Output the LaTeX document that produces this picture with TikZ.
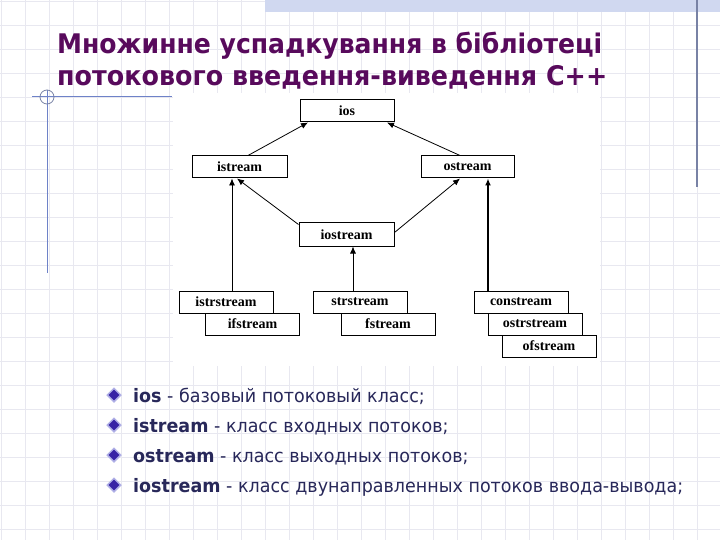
\documentclass[tikz,border=0pt]{standalone}
\usepackage{fontspec}
\usepackage{graphicx}
\setmainfont{Liberation Serif}
\newfontfamily\titlefont{DejaVu Sans}
\newfontfamily\bodyfont{DejaVu Sans}
\usetikzlibrary{arrows.meta,shapes.geometric}
\definecolor{titlec}{RGB}{88,10,92}
\definecolor{bodyc}{RGB}{40,40,90}
\definecolor{gridc}{RGB}{232,232,240}
\definecolor{bandc}{RGB}{208,216,240}
\definecolor{decoc}{RGB}{120,130,165}
\definecolor{bluel}{RGB}{110,130,200}
\definecolor{bulletc}{RGB}{55,35,165}
\definecolor{bulletedge}{RGB}{175,175,230}
\newsavebox\fitbox
\newcommand\fitto[2]{\sbox\fitbox{#2}\resizebox{#1}{\ht\fitbox}{\usebox\fitbox}}
\newcommand\setbulletscale[1]{\sbox\fitbox{#1}\pgfmathsetmacro\tmpsx{550/\the\wd\fitbox}\global\let\bsx\tmpsx}
\newcommand\bfont{\bodyfont\fontsize{18.5}{20}\selectfont}
\tikzset{
  gridline/.style={draw=gridc, line width=0.8pt},
  umlbox/.style={draw=black, line width=1pt, fill=white, minimum width=94pt,
    minimum height=22pt, inner sep=0pt, font=\bfseries\fontsize{14}{14}\selectfont},
  arr/.style={-{Latex[length=7pt,width=6pt]}, line width=0.8pt},
  titletext/.style={anchor=base west, inner sep=0pt, text=titlec,
    font=\titlefont\bfseries\fontsize{27}{30}\selectfont},
  bodytext/.style={anchor=base west, inner sep=0pt, text=bodyc, font=\bfont},
  bulletmark/.style={diamond, fill=bulletc, draw=bulletedge, line width=1.5pt,
    minimum width=14pt, minimum height=14pt, inner sep=0pt}
}
\begin{document}
\begin{tikzpicture}[x=1pt,y=-1pt]
\useasboundingbox (0,0) rectangle (720,540);
\fill[white] (0,0) rectangle (720,540);
% background grid
\foreach \i in {0,...,30} \draw[gridline] (24*\i+1,0) -- (24*\i+1,540);
\foreach \j in {0,...,22} \draw[gridline] (0,24*\j+1) -- (720,24*\j+1);
% decorations
\fill[bandc] (265,0) rectangle (720,12);
\draw[decoc, line width=1.2pt] (697,0) -- (697,187);
\draw[bluel, line width=1pt] (32,97) -- (172,97);
\draw[bluel, line width=1pt] (47,90) -- (47,273);
\draw[decoc, line width=0.8pt] (47,97) circle[radius=7pt];
% white picture area
\fill[white] (173,93) rectangle (600,366);
% title
\node[titletext] (t1) at (57,54) {\fitto{545pt}{Множинне успадкування в бібліотеці}};
\node[titletext] (t2) at (57,86) {\fitto{550pt}{потокового введення-виведення C++}};
% diagram
\node[umlbox] (ios) at (347,111) {ios};
\node[umlbox, minimum width=95pt] (istream) at (239.5,167) {istream};
\node[umlbox, minimum width=93pt] (ostream) at (467.5,167) {ostream};
\node[umlbox, minimum width=95pt, minimum height=23pt] (iostream) at (346.5,234.5) {iostream};
\node[umlbox] (istrstream) at (226,302) {istrstream};
\node[umlbox] (ifstream) at (252.5,324) {ifstream};
\node[umlbox] (strstream) at (360,302) {strstream};
\node[umlbox] (fstream) at (388,324) {fstream};
\node[umlbox] (constream) at (521,302) {constream};
\node[umlbox] (ostrstream) at (535,324) {ostrstream};
\node[umlbox] (ofstream) at (549,346) {ofstream};
\draw[arr] ([xshift=8.5pt]istream.north) -- ([xshift=-39pt]ios.south);
\draw[arr] ([xshift=-7.5pt]ostream.north) -- ([xshift=40pt]ios.south);
\draw[arr] ([yshift=-2pt]iostream.north west) -- ([xshift=-2.5pt]istream.south);
\draw[arr] ([yshift=2pt]iostream.east) -- ([xshift=-7.5pt]ostream.south);
\draw[arr] ([xshift=6pt]istrstream.north) -- ([xshift=6pt]istrstream.north |- istream.south);
\draw[arr] ([xshift=-7pt]strstream.north) -- ([xshift=-7pt]strstream.north |- iostream.south);
\draw[arr, line width=1.8pt] ([xshift=-33pt]constream.north) -- ([xshift=-33pt]constream.north |- ostream.south);
% bullet list
\node[bulletmark] (b1) at (114,395) {};
\node[bulletmark] (b2) at (114,425) {};
\node[bulletmark] (b3) at (114,455) {};
\node[bulletmark] (b4) at (114,485) {};
\node[bodytext] (l4) at (133,492) {\setbulletscale{\textbf{iostream} - класс двунаправленных потоков ввода-вывода;}\scalebox{\bsx}[1]{\textbf{iostream} - класс двунаправленных потоков ввода-вывода;}};
\node[bodytext] (l1) at (133,402) {\scalebox{\bsx}[1]{\textbf{ios} - базовый потоковый класс;}};
\node[bodytext] (l2) at (133,432) {\scalebox{\bsx}[1]{\textbf{istream} - класс входных потоков;}};
\node[bodytext] (l3) at (133,462) {\scalebox{\bsx}[1]{\textbf{ostream} - класс выходных потоков;}};
\end{tikzpicture}
\end{document}
